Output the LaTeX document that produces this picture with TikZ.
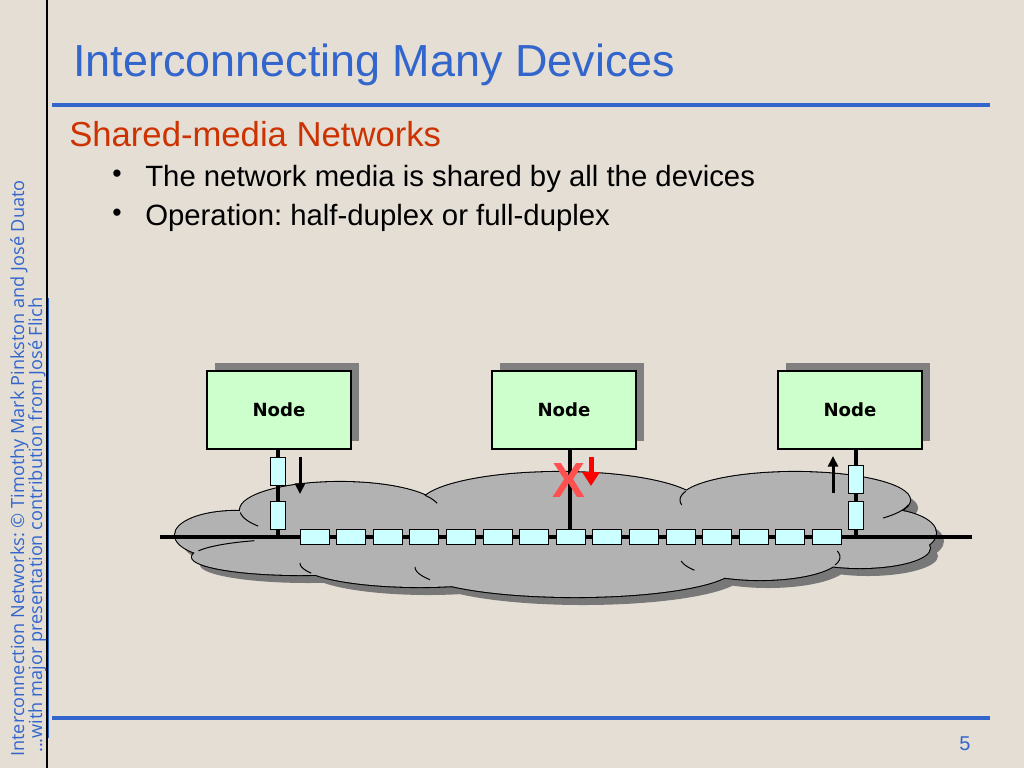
\documentclass[tikz,border=0pt]{standalone}
\usepackage{fontspec}
\setmainfont{Liberation Sans}
\newfontfamily\nodefont{DejaVu Sans}
\newfontfamily\sidefont{Open Sans}
\newfontfamily\xfont{Liberation Sans}
\usetikzlibrary{shadows,arrows.meta}
\frenchspacing
\definecolor{bg}{RGB}{228,222,213}
\definecolor{titleblue}{RGB}{51,102,204}
\definecolor{subred}{RGB}{204,51,0}
\definecolor{nodegreen}{RGB}{204,255,204}
\definecolor{pktcyan}{RGB}{204,255,255}
\definecolor{cloudgray}{RGB}{178,178,178}
\definecolor{shadowgray}{RGB}{128,128,128}
\definecolor{cloudshadow}{RGB}{120,120,120}
\definecolor{xred}{RGB}{255,80,80}
\tikzset{
  nodebox/.style={draw=black, line width=0.9pt, fill=nodegreen,
    minimum width=108pt, minimum height=58.5pt, inner sep=0pt,
    font=\nodefont\bfseries\fontsize{13.6}{16}\selectfont,
    drop shadow={shadow xshift=6pt, shadow yshift=6pt, fill=shadowgray, opacity=1}},
  hpkt/.style={draw=black, line width=0.75pt, fill=pktcyan,
    minimum width=21.75pt, minimum height=11.25pt, inner sep=0pt},
  vpkt/.style={draw=black, line width=0.75pt, fill=pktcyan,
    minimum width=11.25pt, minimum height=21pt, inner sep=0pt},
  wire/.style={line width=2.6pt, black},
  arr/.style={line width=2.25pt, black, -{Triangle[width=7.5pt,length=8pt]}},
  redarr/.style={line width=3.75pt, red, -{Triangle[width=12.75pt,length=10.5pt]}},
  rule/.style={titleblue, line width=3pt},
  txt/.style={anchor=base west, inner sep=0pt},
  inner arc/.style={line width=0.75pt, black},
}
\newcommand{\cloudpath}{
  (235,535) ellipse [x radius=60, y radius=24]
  (340,510) ellipse [x radius=100, y radius=28]
  (560,505) ellipse [x radius=140, y radius=33]
  (795,500) ellipse [x radius=115, y radius=28]
  (880,533) ellipse [x radius=56, y radius=24]
  (300,557) ellipse [x radius=108, y radius=18]
  (420,563) ellipse [x radius=120, y radius=24]
  (575,567) ellipse [x radius=160, y radius=30]
  (760,557) ellipse [x radius=80, y radius=23]
  (860,548) ellipse [x radius=70, y radius=20]
  (555,535) ellipse [x radius=360, y radius=38]
}
% piece of an ellipse: centre x, centre y, x radius, y radius, from angle, to angle
\newcommand{\cloudarc}[6]{%
  \draw[inner arc, domain=#5:#6, samples=16, variable=\t, smooth]
    plot ({#1+#3*cos(\t)},{#2-#4*sin(\t)});}
\begin{document}
\begin{tikzpicture}[x=0.75pt,y=-0.75pt]
\fill[bg] (0,0) rectangle (1024,768);
\useasboundingbox (0,0) rectangle (1024,768);

% left rule and side text
\coordinate (lt) at (47,0);
\coordinate (lb) at (47,768);
\draw[line width=2pt, black] (lt) -- (lb);
\node[rotate=90, txt, text=titleblue, font=\sidefont\fontsize{13.6}{16}\selectfont] (side1) at (24,757)
  {Interconnection Networks: © Timothy Mark Pinkston and José Duato};
\node[rotate=90, txt, text=titleblue, font=\sidefont\fontsize{13.6}{16}\selectfont] (side2) at (42,753)
  {...\underline{with major presentation contribution from José Flich}};

% title
\node[txt, text=titleblue, font=\fontsize{33.7}{40}\selectfont] (title) at (73,76) {Interconnecting Many Devices};
\coordinate (r1a) at (52,105);
\coordinate (r1b) at (990,105);
\draw[rule] (r1a) -- (r1b);
\node[txt, text=subred, font=\fontsize{26}{31}\selectfont] (sub) at (69,146) {Shared-media Networks};
\node[txt, font=\fontsize{20}{24}\selectfont] (b1) at (112,182) {•};
\node[txt, font=\fontsize{22}{26}\selectfont] (t1) at (145,186) {The network media is shared by all the devices};
\node[txt, font=\fontsize{20}{24}\selectfont] (b2) at (112,221) {•};
\node[txt, font=\fontsize{22}{26}\selectfont] (t2) at (145,225) {Operation: half-duplex or full-duplex};

% bottom rule and page number
\coordinate (r2a) at (52,718);
\coordinate (r2b) at (990,718);
\draw[rule] (r2a) -- (r2b);
\node[anchor=base, inner sep=0pt, text=titleblue, font=\fontsize{15}{18}\selectfont] (pg) at (965,750) {5};

% cloud
\fill[cloudshadow, shift={(8,8)}] \cloudpath;
\draw[line width=1.6pt, black] \cloudpath;
\fill[cloudgray] \cloudpath;
% inner arcs of the cloud outline
\cloudarc{340}{510}{100}{28}{32}{14}
\cloudarc{340}{510}{100}{28}{185}{215}
\cloudarc{300}{557}{108}{18}{115}{160}
\cloudarc{420}{563}{120}{24}{180}{205}
\cloudarc{575}{567}{160}{30}{180}{205}
\cloudarc{795}{500}{115}{28}{162}{190}
\cloudarc{795}{500}{115}{28}{-10}{-40}
\cloudarc{760}{557}{80}{23}{190}{215}
\cloudarc{760}{557}{80}{23}{15}{-20}

% nodes
\node[nodebox] (n1) at (279,410) {Node};
\node[nodebox] (n2) at (564,410) {Node};
\node[nodebox] (n3) at (850,410) {Node};

% bus
\coordinate (busL) at (160,537);
\coordinate (busR) at (972,537);
\draw[wire] (busL) -- (busR);

% drops
\coordinate (d1) at (278,537);
\coordinate (d2) at (570,537);
\coordinate (d3) at (856,537);
\draw[wire] (n1.south -| d1) -- (d1);
\draw[wire] (n2.south -| d2) -- (d2);
\draw[wire] (n3.south -| d3) -- (d3);

% vertical packets
\node[vpkt] (v1a) at (278,471) {};
\node[vpkt] (v1b) at (278,515) {};
\node[vpkt] (v3a) at (856,479) {};
\node[vpkt] (v3b) at (856,515) {};

% horizontal packets
\foreach \i in {0,...,14}{
  \node[hpkt] (p\i) at ({314.5+36.6*\i},537) {};
}

% arrows
\coordinate (a1s) at (300,457);
\coordinate (a1e) at (300,494);
\draw[arr] (a1s) -- (a1e);
\coordinate (a3s) at (833,493);
\coordinate (a3e) at (833,456);
\draw[arr] (a3s) -- (a3e);
\coordinate (a2s) at (591,457);
\coordinate (a2e) at (591,486);
\draw[redarr] (a2s) -- (a2e);

% collision mark
\node[inner sep=0pt, text=xred, font=\xfont\bfseries\fontsize{37}{40}\selectfont] (x) at (569,481) {X};
\end{tikzpicture}
\end{document}
